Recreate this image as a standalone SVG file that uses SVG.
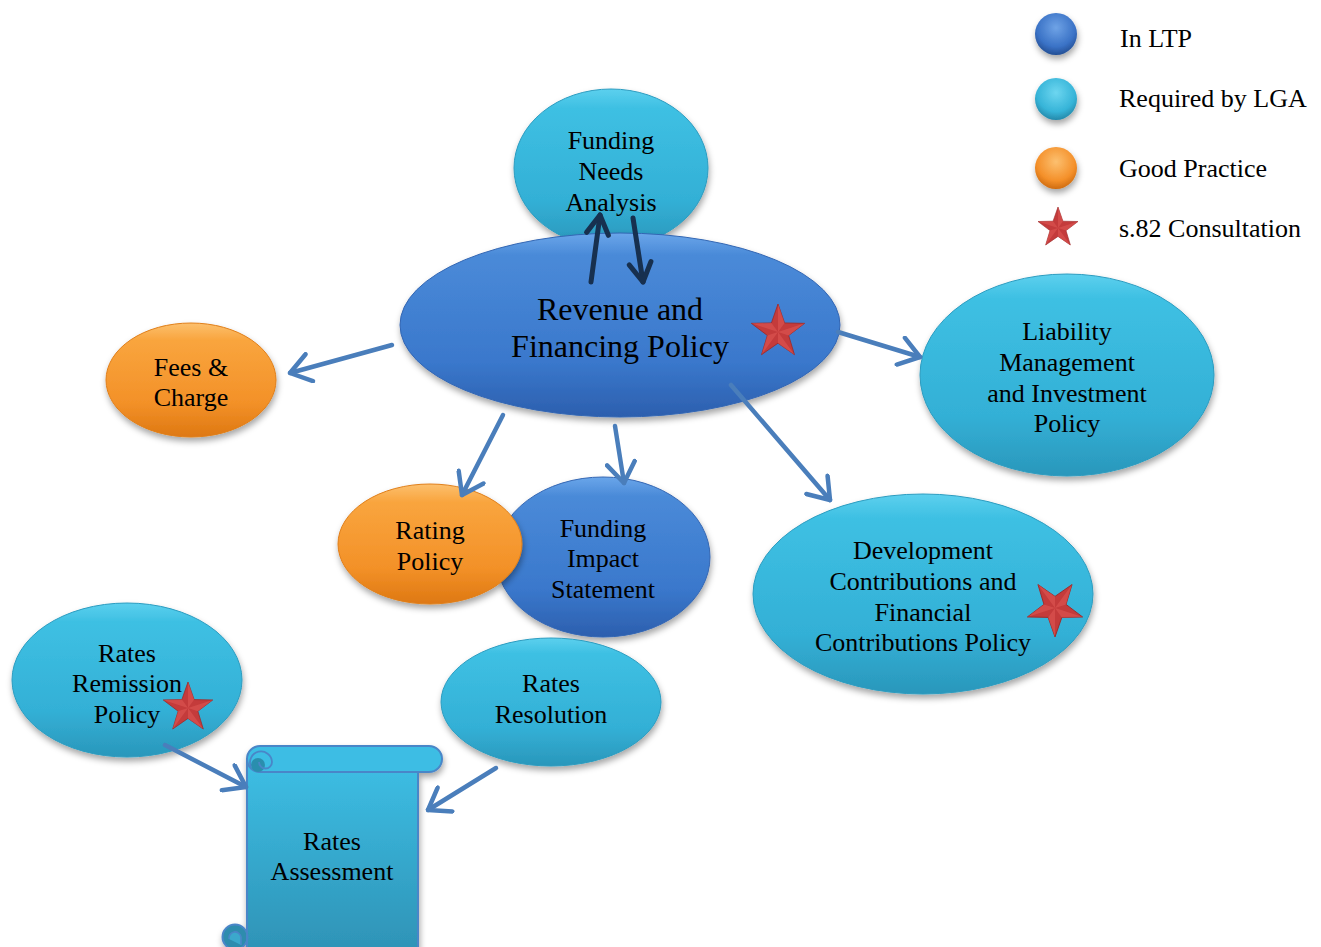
<svg xmlns="http://www.w3.org/2000/svg" width="1321" height="947" viewBox="0 0 1321 947">
<style>
.t{font-family:"Liberation Serif","Times New Roman",serif;font-size:26px;fill:#000;text-anchor:middle}
.big{font-size:32px}
.lg{text-anchor:start}
.conn{stroke:#4a7ebb;stroke-width:4.5;fill:none;stroke-linecap:round}
.dark{stroke:#17304f;stroke-width:5;fill:none;stroke-linecap:round}
.blue{fill:url(#gBlue);stroke:#3366b3;stroke-width:1}
.cyan{fill:url(#gCyan);stroke:#2c9cc0;stroke-width:1}
.orange{fill:url(#gOrange);stroke:#e07f1a;stroke-width:1}
</style>
<defs>
<filter id="sh" x="-20%" y="-20%" width="140%" height="150%">
<feDropShadow dx="1" dy="4" stdDeviation="3" flood-color="#000" flood-opacity="0.35"/>
</filter>
<linearGradient id="gBlue" x1="0" y1="0" x2="0" y2="1">
<stop offset="0" stop-color="#6aa6ea"/><stop offset="0.12" stop-color="#4a8ad8"/><stop offset="0.7" stop-color="#3a78cc"/><stop offset="1" stop-color="#2c5fae"/>
</linearGradient>
<linearGradient id="gCyan" x1="0" y1="0" x2="0" y2="1">
<stop offset="0" stop-color="#5cd0ee"/><stop offset="0.12" stop-color="#3ec0e3"/><stop offset="0.7" stop-color="#33b0d6"/><stop offset="1" stop-color="#2a97bb"/>
</linearGradient>
<linearGradient id="gOrange" x1="0" y1="0" x2="0" y2="1">
<stop offset="0" stop-color="#fcc06e"/><stop offset="0.15" stop-color="#f9a53e"/><stop offset="0.7" stop-color="#f39128"/><stop offset="1" stop-color="#de7812"/>
</linearGradient>
<radialGradient id="sBlue" cx="0.5" cy="0.35" r="0.65">
<stop offset="0" stop-color="#6fa3e6"/><stop offset="0.7" stop-color="#3a72c6"/><stop offset="1" stop-color="#244f94"/>
</radialGradient>
<radialGradient id="sCyan" cx="0.5" cy="0.35" r="0.65">
<stop offset="0" stop-color="#6dd6f0"/><stop offset="0.7" stop-color="#36b4d8"/><stop offset="1" stop-color="#2589aa"/>
</radialGradient>
<radialGradient id="sOrange" cx="0.5" cy="0.35" r="0.65">
<stop offset="0" stop-color="#fcc070"/><stop offset="0.7" stop-color="#f4902a"/><stop offset="1" stop-color="#cf6c10"/>
</radialGradient>
<linearGradient id="gScroll" x1="0" y1="0" x2="0" y2="1">
<stop offset="0" stop-color="#3dbfe5"/><stop offset="1" stop-color="#2d8fb2"/>
</linearGradient>
<marker id="ah" viewBox="-24 -16 28 32" refX="0" refY="0" markerWidth="28" markerHeight="32" markerUnits="userSpaceOnUse" orient="auto">
<path d="M-20,-14 L0,0 L-20,14" fill="none" stroke="#4a7ebb" stroke-width="4.5" stroke-linecap="round" stroke-linejoin="round"/>
</marker>
<marker id="ahd" viewBox="-24 -16 28 32" refX="0" refY="0" markerWidth="28" markerHeight="32" markerUnits="userSpaceOnUse" orient="auto">
<path d="M-19,-11 L0,0 L-19,11" fill="none" stroke="#17304f" stroke-width="5" stroke-linecap="round" stroke-linejoin="round"/>
</marker>
<g id="star">
<polygon points="0,-10 2.351,-3.236 9.511,-3.090 3.804,1.236 5.878,8.090 0,4 -5.878,8.090 -3.804,1.236 -9.511,-3.090 -2.351,-3.236" fill="#c43b3b" stroke="#9c2a2a" stroke-width="0.3"/>
<polygon points="0,0 0,-10 2.351,-3.236 0,0 9.511,-3.090 3.804,1.236 0,0 5.878,8.090 0,4 0,0 -5.878,8.090 -3.804,1.236 0,0 -9.511,-3.090 -2.351,-3.236" fill="#e05a55" opacity="0.55"/>
</g>
</defs>
<rect width="1321" height="947" fill="#fff"/>

<g id="n-fna" filter="url(#sh)">
<ellipse cx="611" cy="168" rx="97" ry="79" class="cyan"/>
</g>
<g id="n-rfp" filter="url(#sh)">
<ellipse cx="620" cy="325" rx="220" ry="92" class="blue"/>
</g>
<g id="n-fna-label">
<text class="t" x="611" y="149">Funding</text>
<text class="t" x="611" y="180">Needs</text>
<text class="t" x="611" y="211">Analysis</text>
</g>
<g id="n-rfp-label">
<text class="t big" x="620" y="320">Revenue and</text>
<text class="t big" x="620" y="357">Financing Policy</text>
<use href="#star" transform="translate(778,332) scale(2.8)"/>
</g>

<g id="n-fees">
<ellipse cx="191" cy="380" rx="85" ry="57" class="orange" filter="url(#sh)"/>
<text class="t" x="191" y="376">Fees &amp;</text>
<text class="t" x="191" y="406">Charge</text>
</g>

<g id="n-lmip">
<ellipse cx="1067" cy="375" rx="147" ry="101" class="cyan" filter="url(#sh)"/>
<text class="t" x="1067" y="340">Liability</text>
<text class="t" x="1067" y="371">Management</text>
<text class="t" x="1067" y="402">and Investment</text>
<text class="t" x="1067" y="432">Policy</text>
</g>

<g id="n-fis">
<ellipse cx="603" cy="557" rx="107" ry="80" class="blue" filter="url(#sh)"/>
<text class="t" x="603" y="537">Funding</text>
<text class="t" x="603" y="567">Impact</text>
<text class="t" x="603" y="598">Statement</text>
</g>

<g id="n-rating">
<ellipse cx="430" cy="544" rx="92" ry="60" class="orange" filter="url(#sh)"/>
<text class="t" x="430" y="539">Rating</text>
<text class="t" x="430" y="570">Policy</text>
</g>

<g id="n-dcfcp">
<ellipse cx="923" cy="594" rx="170" ry="100" class="cyan" filter="url(#sh)"/>
<text class="t" x="923" y="559">Development</text>
<text class="t" x="923" y="590">Contributions and</text>
<text class="t" x="923" y="621">Financial</text>
<text class="t" x="923" y="651">Contributions Policy</text>
<use href="#star" transform="translate(1055,608) rotate(36) scale(2.9)"/>
</g>

<g id="n-rrp">
<ellipse cx="127" cy="680" rx="115" ry="77" class="cyan" filter="url(#sh)"/>
<text class="t" x="127" y="662">Rates</text>
<text class="t" x="127" y="692">Remission</text>
<text class="t" x="127" y="723">Policy</text>
<use href="#star" transform="translate(188,708) scale(2.6)"/>
</g>

<g id="n-rr">
<ellipse cx="551" cy="702" rx="110" ry="64" class="cyan" filter="url(#sh)"/>
<text class="t" x="551" y="692">Rates</text>
<text class="t" x="551" y="723">Resolution</text>
</g>

<g id="n-ra">
<g filter="url(#sh)">
<rect x="247" y="759" width="171" height="210" fill="url(#gScroll)" stroke="#4a86c8" stroke-width="2"/>
<path d="M260,746 L429,746 A13,13 0 0 1 429,772 L260,772 A13,13 0 0 1 260,746 Z" fill="#3cbde4" stroke="#4a86c8" stroke-width="2"/>
<circle cx="258" cy="765" r="7" fill="#2c8eae"/>
<path d="M251,767 A11,11 0 1 1 272,762 A6.5,6.5 0 0 1 259,762" fill="none" stroke="#4a86c8" stroke-width="1.8"/>
<circle cx="235" cy="937" r="12.5" fill="#2d8cae" stroke="#4a86c8" stroke-width="2"/>
<path d="M229,939 A6,6 0 0 1 241,937 L241,945" fill="#3aa8cc" stroke="#4a86c8" stroke-width="1.6"/>
<line x1="247" y1="925" x2="247" y2="947" stroke="#4a86c8" stroke-width="2"/>
</g>
<text class="t" x="332" y="850">Rates</text>
<text class="t" x="332" y="880">Assessment</text>
</g>

<g id="connectors">
<line class="conn" x1="392" y1="345" x2="290" y2="373" marker-end="url(#ah)"/>
<line class="conn" x1="838" y1="332" x2="920" y2="357" marker-end="url(#ah)"/>
<line class="conn" x1="503" y1="415" x2="462" y2="495" marker-end="url(#ah)"/>
<line class="conn" x1="615" y1="426" x2="624" y2="483" marker-end="url(#ah)"/>
<line class="conn" x1="731" y1="385" x2="830" y2="500" marker-end="url(#ah)"/>
<line class="conn" x1="165" y1="745" x2="246" y2="787" marker-end="url(#ah)"/>
<line class="conn" x1="496" y1="768" x2="428" y2="810" marker-end="url(#ah)"/>
<line class="dark" x1="591" y1="282" x2="600" y2="215" marker-end="url(#ahd)"/>
<line class="dark" x1="633" y1="218" x2="643" y2="282" marker-end="url(#ahd)"/>
</g>

<g id="legend">
<circle cx="1056" cy="34" r="21" fill="url(#sBlue)" filter="url(#sh)"/>
<circle cx="1056" cy="99" r="21" fill="url(#sCyan)" filter="url(#sh)"/>
<circle cx="1056" cy="168" r="21" fill="url(#sOrange)" filter="url(#sh)"/>
<use href="#star" transform="translate(1058,228) scale(2.1)"/>
<text class="t lg" x="1120" y="47">In LTP</text>
<text class="t lg" x="1119" y="107">Required by LGA</text>
<text class="t lg" x="1119" y="177">Good Practice</text>
<text class="t lg" x="1119" y="237">s.82 Consultation</text>
</g>
</svg>
